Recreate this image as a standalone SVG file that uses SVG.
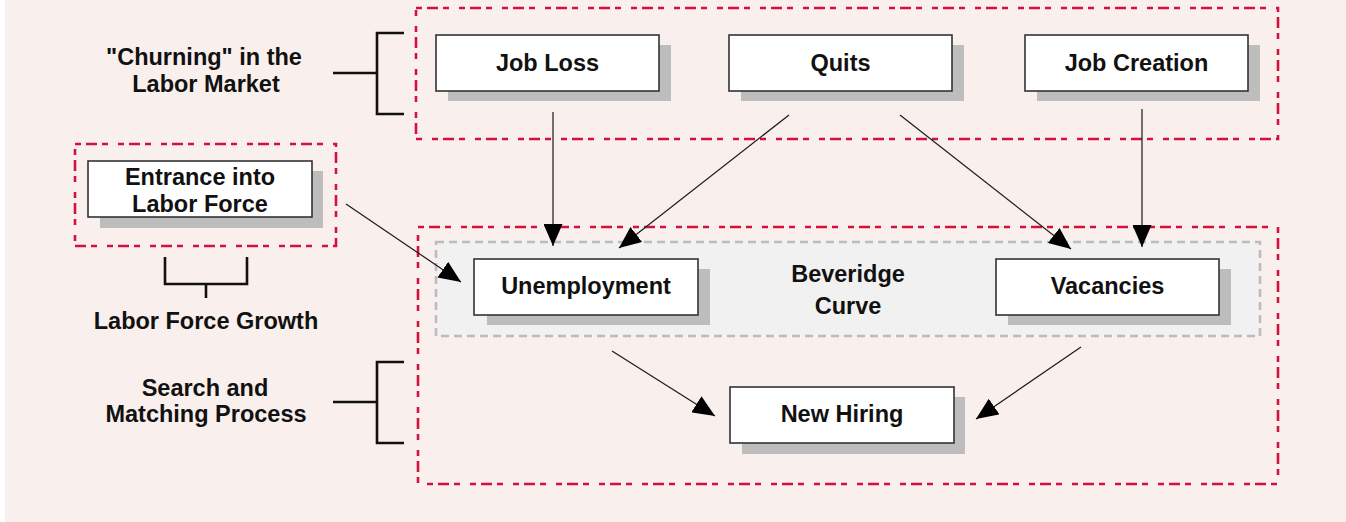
<svg xmlns="http://www.w3.org/2000/svg" width="1346" height="522" viewBox="0 0 1346 522">
  <defs>
    <style>
      .bg { fill: #f9efec; }
      .zone { fill: none; stroke: #d2113e; stroke-width: 2.6; stroke-dasharray: 6 5 11 5 6 10; }
      .bev { fill: #f1f1f1; stroke: #bcbcbc; stroke-width: 2.6; stroke-dasharray: 8 5; }
      .shadow { fill: #bdbdbd; }
      .box { fill: #ffffff; stroke: #333333; stroke-width: 1.6; }
      .lbl { font-family: "Liberation Sans", Arial, Helvetica, sans-serif; font-weight: bold; font-size: 23.5px; fill: #111111; text-anchor: middle; }
      .brace { fill: none; stroke: #111111; stroke-width: 2.6; }
      .link { fill: none; stroke: #1a1a1a; stroke-width: 1.2; marker-end: url(#head); }
    </style>
    <marker id="head" viewBox="0 0 22 19" refX="22" refY="9.5" markerWidth="22" markerHeight="19" markerUnits="userSpaceOnUse" orient="auto">
      <path d="M0,0 L22,9.5 L0,19 z" fill="#000000"/>
    </marker>
  </defs>

  <rect class="bg" x="5" y="0" width="1341" height="522"/>

  <!-- grouping zones -->
  <g id="zones">
    <rect class="zone" x="416" y="8" width="862" height="131"/>
    <rect class="zone" x="75" y="144" width="261" height="102"/>
    <rect class="zone" x="418" y="227" width="860" height="257"/>
    <rect class="bev" x="436" y="242" width="824" height="94"/>
    <text class="lbl" x="848" y="282">Beveridge</text>
    <text class="lbl" x="848" y="314">Curve</text>
  </g>

  <!-- side labels with brackets -->
  <g id="churning-label">
    <path class="brace" d="M404,33 H377 V114 H404 M333,73 H377"/>
    <text class="lbl" x="204" y="65">"Churning" in the</text>
    <text class="lbl" x="206" y="92">Labor Market</text>
  </g>
  <g id="growth-label">
    <path class="brace" d="M165,257 V284 H247 V257 M206,284 V298"/>
    <text class="lbl" x="206" y="329">Labor Force Growth</text>
  </g>
  <g id="matching-label">
    <path class="brace" d="M404,362 H377 V443 H404 M333,402 H377"/>
    <text class="lbl" x="205" y="396">Search and</text>
    <text class="lbl" x="206" y="422">Matching Process</text>
  </g>

  <!-- nodes -->
  <g id="job-loss">
    <rect class="shadow" x="448" y="45" width="223" height="56"/>
    <rect class="box" x="436" y="35" width="223" height="56"/>
    <text class="lbl" x="547.5" y="71">Job Loss</text>
  </g>
  <g id="quits">
    <rect class="shadow" x="741" y="45" width="223" height="56"/>
    <rect class="box" x="729" y="35" width="223" height="56"/>
    <text class="lbl" x="840.5" y="71">Quits</text>
  </g>
  <g id="job-creation">
    <rect class="shadow" x="1037" y="45" width="223" height="56"/>
    <rect class="box" x="1025" y="35" width="223" height="56"/>
    <text class="lbl" x="1136.5" y="71">Job Creation</text>
  </g>
  <g id="entrance">
    <rect class="shadow" x="100" y="171" width="223" height="57"/>
    <rect class="box" x="88" y="161" width="224" height="56"/>
    <text class="lbl" x="200" y="185">Entrance into</text>
    <text class="lbl" x="200" y="212">Labor Force</text>
  </g>
  <g id="unemployment">
    <rect class="shadow" x="487" y="269" width="223" height="56"/>
    <rect class="box" x="474" y="259" width="224" height="56"/>
    <text class="lbl" x="586" y="294">Unemployment</text>
  </g>
  <g id="vacancies">
    <rect class="shadow" x="1008" y="269" width="223" height="56"/>
    <rect class="box" x="996" y="259" width="223" height="56"/>
    <text class="lbl" x="1107.5" y="294">Vacancies</text>
  </g>
  <g id="new-hiring">
    <rect class="shadow" x="742" y="397" width="223" height="57"/>
    <rect class="box" x="730" y="387" width="224" height="56"/>
    <text class="lbl" x="842" y="422">New Hiring</text>
  </g>

  <!-- connectors -->
  <g id="connectors">
    <line class="link" x1="553" y1="112" x2="553" y2="246"/>
    <line class="link" x1="789" y1="115" x2="619" y2="248"/>
    <line class="link" x1="900" y1="115" x2="1071" y2="249"/>
    <line class="link" x1="1142" y1="109" x2="1142" y2="247"/>
    <line class="link" x1="346" y1="204" x2="461" y2="282"/>
    <line class="link" x1="612" y1="351" x2="715" y2="416"/>
    <line class="link" x1="1081" y1="347" x2="976" y2="419"/>
  </g>
</svg>
